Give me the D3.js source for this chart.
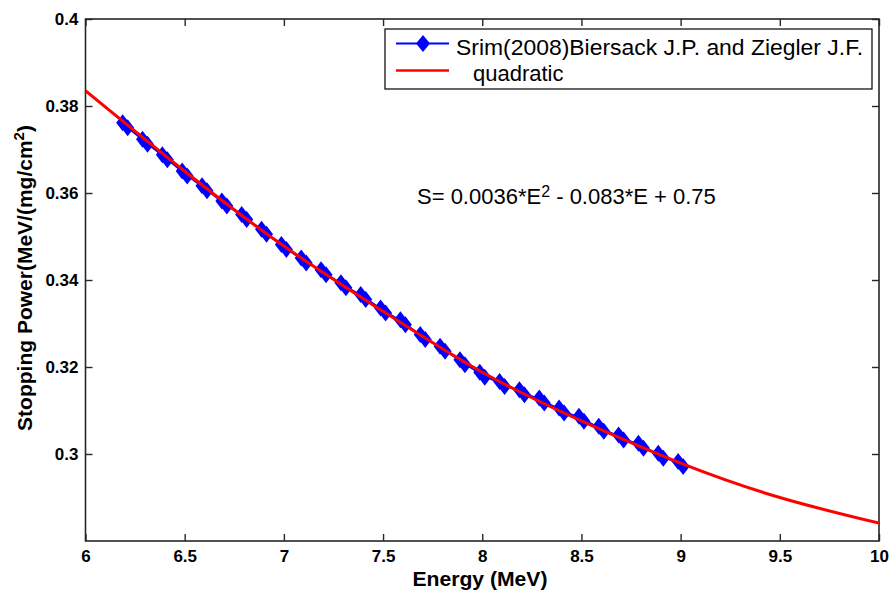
<!DOCTYPE html>
<html>
<head>
<meta charset="utf-8">
<script src="https://cdn.jsdelivr.net/npm/d3@7"></script>
<style>
  html, body { margin: 0; padding: 0; background: #fff; }
  svg { display: block; font-family: "Liberation Sans", Arial, sans-serif; }
</style>
</head>
<body>
<svg id="chart" width="890" height="593"></svg>
<script>
// ---- data ----
const energy = [6.2, 6.3, 6.4, 6.5, 6.6, 6.7, 6.8, 6.9, 7.0, 7.1, 7.2, 7.3, 7.4, 7.5, 7.6,
                7.7, 7.8, 7.9, 8.0, 8.1, 8.2, 8.3, 8.4, 8.5, 8.6, 8.7, 8.8, 8.9, 9.0];
const srim = [0.3756, 0.3718, 0.3682, 0.3645, 0.3611, 0.3576, 0.3545, 0.3511, 0.3476, 0.3445,
              0.3418, 0.3388, 0.3361, 0.3330, 0.3303, 0.3269, 0.3242, 0.3211, 0.3182, 0.3161,
              0.3142, 0.3123, 0.3100, 0.3081, 0.3058, 0.3038, 0.3019, 0.2996, 0.2977];
const fitEnergy = [6.0, 6.5, 7.0, 7.5, 8.0, 8.5, 9.0, 9.5, 10.0];
const fitValues = [0.3835, 0.3650, 0.3478, 0.3328, 0.3188, 0.3076, 0.2979, 0.2900, 0.2841];
const xTicks = [6, 6.5, 7, 7.5, 8, 8.5, 9, 9.5, 10];
const xTickLabels = ["6", "6.5", "7", "7.5", "8", "8.5", "9", "9.5", "10"];
const yTicks = [0.3, 0.32, 0.34, 0.36, 0.38, 0.4];
const yTickLabels = ["0.3", "0.32", "0.34", "0.36", "0.38", "0.4"];
const seriesNames = ["Srim(2008)Biersack J.P. and Ziegler J.F.", "quadratic"];
const xTitle = "Energy (MeV)";
const yTitle = ["Stopping Power(MeV/(mg/cm", "2", ")"];
const equation = ["S= 0.0036*E", "2", " - 0.083*E + 0.75"];

// ---- layout ----
const svg = d3.select("#chart");
const L = 85.5, R = 879, T = 19, B = 541;
const x = d3.scaleLinear().domain([6, 10]).range([L, R]);
const y = d3.scaleLinear().domain([0.28, 0.4]).range([B, T]);
const axisColor = "#262626";

// frame
svg.append("rect").attr("x", L).attr("y", T).attr("width", R - L).attr("height", B - T)
  .attr("fill", "#fff").attr("stroke", axisColor).attr("stroke-width", 1.6);

// axes
function styleAxis(g) {
  g.select(".domain").remove();
  g.selectAll(".tick line").attr("stroke", axisColor).attr("stroke-width", 1.4);
  g.selectAll("text").attr("fill", "#000").attr("font-size", 17).attr("font-weight", "bold")
    .attr("font-family", "'Liberation Sans', Arial, sans-serif");
}
svg.append("g").attr("transform", `translate(0,${B})`)
  .call(d3.axisBottom(x).tickValues(xTicks).tickFormat((d, i) => xTickLabels[i])
    .tickSizeInner(-7).tickSizeOuter(0).tickPadding(9))
  .call(styleAxis);
svg.append("g").attr("transform", `translate(0,${T})`)
  .call(d3.axisTop(x).tickValues(xTicks).tickFormat("").tickSizeInner(-7).tickSizeOuter(0))
  .call(styleAxis);
svg.append("g").attr("transform", `translate(${L},0)`)
  .call(d3.axisLeft(y).tickValues(yTicks).tickFormat((d, i) => yTickLabels[i])
    .tickSizeInner(-7).tickSizeOuter(0).tickPadding(7))
  .call(styleAxis);
svg.append("g").attr("transform", `translate(${R},0)`)
  .call(d3.axisRight(y).tickValues(yTicks).tickFormat("").tickSizeInner(-7).tickSizeOuter(0))
  .call(styleAxis);

// axis titles
svg.append("text").attr("x", 480).attr("y", 586).attr("text-anchor", "middle")
  .attr("font-size", 20).attr("font-weight", "bold")
  .attr("textLength", 135).attr("lengthAdjust", "spacingAndGlyphs")
  .text(xTitle);
const yt = svg.append("text").attr("transform", "translate(32,278) rotate(-90)")
  .attr("text-anchor", "middle").attr("font-size", 21).attr("font-weight", "bold");
yt.append("tspan").text(yTitle[0]);
yt.append("tspan").attr("font-size", 15).attr("dy", -8).text(yTitle[1]);
yt.append("tspan").attr("dy", 8).text(yTitle[2]);

// data
const srimData = energy.map((e, i) => ({ e, v: srim[i] }));
const fitData = fitEnergy.map((e, i) => ({ e, v: fitValues[i] }));

svg.append("clipPath").attr("id", "clip").append("rect")
  .attr("x", L).attr("y", T).attr("width", R - L).attr("height", B - T);
const plot = svg.append("g").attr("clip-path", "url(#clip)");

plot.append("path").datum(srimData)
  .attr("fill", "none").attr("stroke", "#0000ff").attr("stroke-width", 2)
  .attr("d", d3.line().x(d => x(d.e)).y(d => y(d.v)));

function diamond(w, h) {
  return `M0,${-h / 2}L${w / 2},0L0,${h / 2}L${-w / 2},0Z`;
}
const markerG = plot.append("g");
[[-2.5, -2.5], [2.5, 2.5]].forEach(([dx, dy]) => {
  markerG.selectAll(null).data(srimData).enter().append("path")
    .attr("d", diamond(13, 17))
    .attr("transform", d => `translate(${x(d.e) + dx},${y(d.v) + dy})`)
    .attr("fill", "#0000ff");
});

plot.append("path").datum(fitData)
  .attr("fill", "none").attr("stroke", "#ff0000").attr("stroke-width", 3)
  .attr("d", d3.line().curve(d3.curveNatural).x(d => x(d.e)).y(d => y(d.v)));

// legend
const lg = svg.append("g");
lg.append("rect").attr("x", 385).attr("y", 29).attr("width", 487).attr("height", 60)
  .attr("fill", "#fff").attr("stroke", "#000").attr("stroke-width", 1.2);
lg.append("line").attr("x1", 396).attr("x2", 449).attr("y1", 43.5).attr("y2", 43.5)
  .attr("stroke", "#0000ff").attr("stroke-width", 2);
lg.append("path").attr("d", diamond(14, 17)).attr("transform", "translate(423,43.5)").attr("fill", "#0000ff");
lg.append("line").attr("x1", 396).attr("x2", 449).attr("y1", 70.5).attr("y2", 70.5)
  .attr("stroke", "#ff0000").attr("stroke-width", 2.5);
lg.append("text").attr("x", 456).attr("y", 55).attr("font-size", 22)
  .attr("textLength", 407).attr("lengthAdjust", "spacingAndGlyphs").text(seriesNames[0]);
lg.append("text").attr("x", 473).attr("y", 81).attr("font-size", 22).text(seriesNames[1]);

// equation annotation
const eq = svg.append("text").attr("x", 417).attr("y", 204).attr("font-size", 22);
eq.append("tspan").text(equation[0]);
eq.append("tspan").attr("font-size", 16).attr("dy", -7).text(equation[1]);
eq.append("tspan").attr("dy", 7).text(equation[2]);
</script>
</body>
</html>
